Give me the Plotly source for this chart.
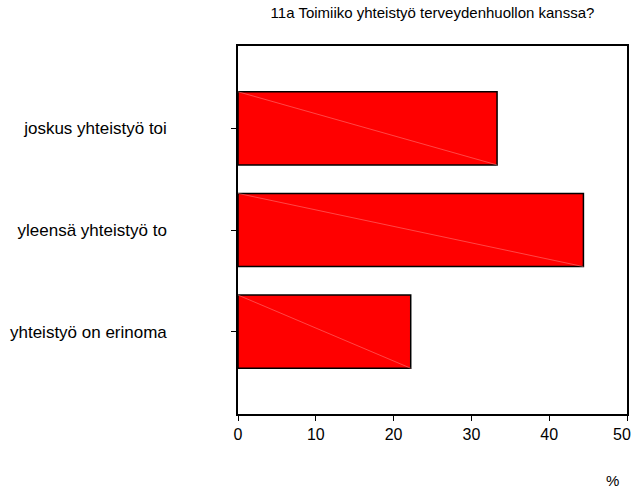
import plotly.graph_objects as go

categories = ["yhteistyö on erinoma", "yleensä yhteistyö to", "joskus yhteistyö toi"]
percent = [22.2, 44.4, 33.3]
x_ticks = [0, 10, 20, 30, 40, 50]
title = "11a Toimiiko yhteistyö terveydenhuollon kanssa?"

W, H = 633, 489
L, R, T, B = 238, 6, 46, 75

fig = go.Figure()
fig.add_trace(go.Bar(
    y=categories, x=percent, orientation="h",
    marker=dict(color="#ff0000", line=dict(color="black", width=1.5)),
    width=0.72,
))

# faint diagonal line in each bar
for i, v in enumerate(percent):
    fig.add_shape(type="line", xref="x", yref="y",
                  x0=0, y0=i + 0.36, x1=v, y1=i - 0.36,
                  line=dict(color="rgba(255,140,140,0.5)", width=1))

# last tick label drawn right-aligned so it fits the page
tick_text = [str(t) for t in x_ticks[:-1]] + [""]

fig.update_layout(
    width=W, height=H,
    margin=dict(l=L, r=R, t=T, b=B, autoexpand=False),
    paper_bgcolor="white", plot_bgcolor="white",
    font=dict(family="Liberation Sans, Arial, sans-serif", size=16, color="black"),
    showlegend=False,
    title=dict(text=title, x=(L + (W - R)) / 2 / W, xanchor="center",
               y=1 - 13 / H, yanchor="middle", font=dict(size=15)),
    xaxis=dict(range=[0, 50], tickvals=x_ticks, ticktext=tick_text,
               ticks="outside", ticklen=5,
               tickcolor="black", showline=True, linecolor="black", linewidth=1.5,
               mirror=True, showgrid=False, zeroline=False, automargin=False,
               tickfont=dict(size=16)),
    yaxis=dict(type="category", categoryorder="array", categoryarray=categories,
               range=[-0.81, 2.81], ticks="outside", ticklen=5, tickcolor="black",
               showline=True, linecolor="black", linewidth=1.5, mirror=True,
               showgrid=False, zeroline=False, ticklabelstandoff=61, automargin=False,
               tickfont=dict(size=17)),
    annotations=[
        dict(text=str(x_ticks[-1]), xref="x", yref="paper", x=x_ticks[-1], y=0,
             xanchor="right", yanchor="top", xshift=6, yshift=-10,
             showarrow=False, font=dict(size=16)),
        dict(text="%", xref="paper", yref="paper",
             x=(612 - L) / (W - L - R), y=-(480 - (H - B)) / (H - T - B),
             xanchor="center", yanchor="middle", showarrow=False,
             font=dict(size=15)),
    ],
)

fig.write_html("out.html", config={"displayModeBar": False},
               post_script="document.body.style.margin='0';")
